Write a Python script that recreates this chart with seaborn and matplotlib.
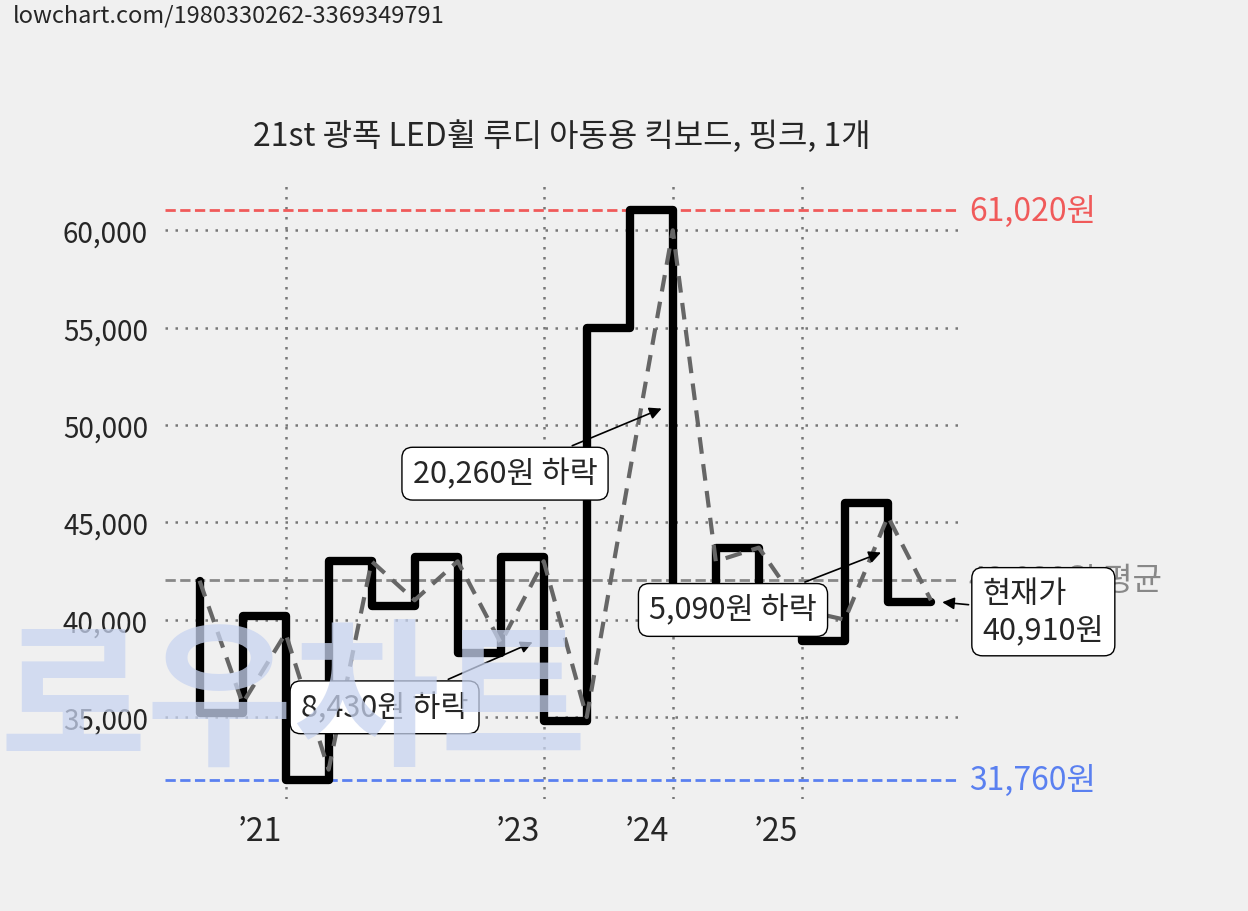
import numpy as np
import matplotlib
matplotlib.use("Agg")
import matplotlib.pyplot as plt
import seaborn as sns

# step prices (one per period), last value repeated to close the step
step_x = [0, 0, 1, 2, 3, 4, 5, 6, 7, 8, 9, 10, 11, 12, 13, 14, 15, 16, 17]
step_y = [42000, 35200, 40190, 31760, 43000, 40700, 43200, 38300, 43200, 34800,
          55000, 61020, 40760, 43700, 41000, 38900, 46000, 40910, 40910]
trend_x = list(range(18))
trend_y = [42000, 35700, 39300, 32300, 43000, 41000, 43000, 38800, 43000, 35000,
           47600, 60000, 43000, 43700, 40500, 40000, 45300, 41000]
tick_pos = [2, 8, 11, 14]
tick_labels = ["’21", "’23", "’24", "’25"]
y_ticks = [35000, 40000, 45000, 50000, 55000, 60000]
max_price, min_price, avg_price, cur_price = 61020, 31760, 42038, 40910

sns.set_theme(style="white")
plt.rcParams["font.family"] = ["Noto Sans CJK KR", "DejaVu Sans"]

fig = plt.figure(figsize=(12.48, 9.12), dpi=100, facecolor="#f0f0f0")
fig.text(0.01, 0.995, "lowchart.com/1980330262-3369349791", fontsize=17, va="top")
fig.text(0.0, 0.225, "로우차트", fontsize=115, color="#c8d4f0", alpha=0.75,
         fontweight="bold", va="center", zorder=0)

ax = fig.add_axes([0.132, 0.123, 0.637, 0.674])
ax.patch.set_alpha(0)
for s in ax.spines.values():
    s.set_visible(False)

for y in y_ticks:
    ax.axhline(y, color="#777777", ls=(0, (1, 3)), lw=1.8, zorder=1)
for x in tick_pos:
    ax.axvline(x, color="#777777", ls=(0, (1, 3)), lw=1.8, zorder=1)

ax.axhline(max_price, color="#f05a5a", ls="--", lw=2, zorder=1)
ax.axhline(min_price, color="#5a80f0", ls="--", lw=2, zorder=1)
ax.axhline(avg_price, color="#888888", ls="--", lw=2, zorder=1)

sns.lineplot(x=step_x, y=step_y, ax=ax, drawstyle="steps-post", color="black",
             lw=6, sort=False, estimator=None, zorder=3)
sns.lineplot(x=trend_x, y=trend_y, ax=ax, color="#666666", lw=3, ls=(0, (4, 2.5)),
             sort=False, estimator=None, zorder=4)

ax.set_xlim(-0.81, 17.67)
ax.set_ylim(30800, 62370)
ax.set_yticks(y_ticks)
ax.set_yticklabels([f"{v:,}" for v in y_ticks], fontsize=20)
ax.set_xticks([p - 0.6 for p in tick_pos])
ax.set_xticklabels(tick_labels, fontsize=23)
ax.tick_params(length=0, pad=12)

lab = dict(transform=ax.get_yaxis_transform(), fontsize=23, va="center", clip_on=False)
ax.text(1.012, max_price, f"{max_price:,}원", color="#f05a5a", **lab)
ax.text(1.012, min_price, f"{min_price:,}원", color="#5a80f0", **lab)
ax.text(1.012, avg_price, f"{avg_price:,}원 평균", color="#888888", **lab)

ax.set_title("21st 광폭 LED휠 루디 아동용 킥보드, 핑크, 1개", fontsize=23, pad=28)

box = dict(boxstyle="round,pad=0.35", fc="white", ec="black", lw=1)
arr = dict(arrowstyle="-|>", color="black", lw=1.2, mutation_scale=18)
ax.annotate("20,260원 하락", xy=(10.8, 50900), xytext=(7.1, 47500), fontsize=22,
            ha="center", va="center", bbox=box, arrowprops=arr, zorder=6)
ax.annotate("8,430원 하락", xy=(7.8, 38900), xytext=(4.3, 35500), fontsize=22,
            ha="center", va="center", bbox=box, arrowprops=arr, zorder=6)
ax.annotate("5,090원 하락", xy=(15.9, 43500), xytext=(12.4, 40500), fontsize=22,
            ha="center", va="center", bbox=box, arrowprops=arr, zorder=6)
ax.annotate(f"현재가\n{cur_price:,}원", xy=(17.2, cur_price), xytext=(18.2, cur_price - 500),
            fontsize=22, ha="left", va="center", bbox=box, arrowprops=arr,
            zorder=6, annotation_clip=False)

fig.savefig("out.png", dpi=100, facecolor=fig.get_facecolor())
